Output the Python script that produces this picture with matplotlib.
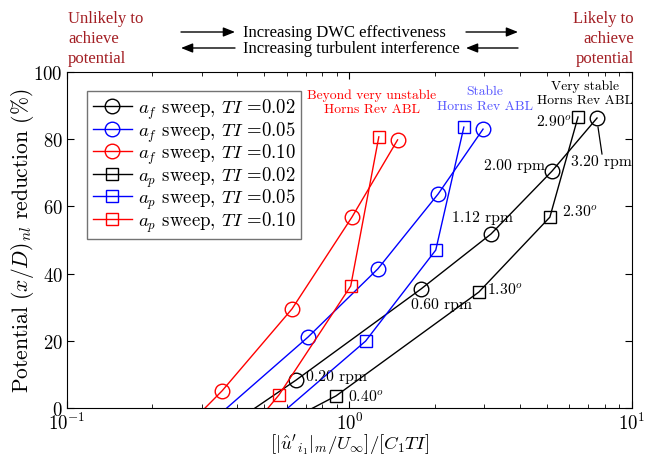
import numpy as np
import matplotlib
matplotlib.use("Agg")
import matplotlib.pyplot as plt

plt.rcParams["font.family"] = "serif"
plt.rcParams["font.serif"] = ["cmr10", "DejaVu Serif"]
plt.rcParams["mathtext.fontset"] = "cm"
plt.rcParams["axes.formatter.use_mathtext"] = True
plt.rcParams["axes.unicode_minus"] = False

# a_f sweeps (circles): normalised amplitude vs. potential reduction (%)
af_x_002 = [0.31, 0.647, 1.79, 3.17, 5.21, 7.52]
af_y_002 = [-10, 8.3, 35.4, 51.8, 70.5, 86.3]
af_x_005 = [0.269, 0.713, 1.26, 2.06, 2.97]
af_y_005 = [-10, 21.1, 41.4, 63.7, 83.0]
af_x_010 = [0.235, 0.354, 0.626, 1.02, 1.48]
af_y_010 = [-10, 5.1, 29.5, 56.8, 79.8]

# a_p sweeps (squares)
ap_x_002 = [0.44, 0.896, 2.87, 5.12, 6.44]
ap_y_002 = [-10, 3.6, 34.5, 56.8, 86.6]
ap_x_005 = [0.44, 1.14, 2.02, 2.54]
ap_y_005 = [-10, 19.9, 47.0, 83.6]
ap_x_010 = [0.41, 0.563, 1.01, 1.27]
ap_y_010 = [-10, 3.9, 36.3, 80.7]

series = [
    (af_x_002, af_y_002, "o", "black", r"$a_f$ sweep, $TI$ =0.02"),
    (af_x_005, af_y_005, "o", "blue", r"$a_f$ sweep, $TI$ =0.05"),
    (af_x_010, af_y_010, "o", "red", r"$a_f$ sweep, $TI$ =0.10"),
    (ap_x_002, ap_y_002, "s", "black", r"$a_p$ sweep, $TI$ =0.02"),
    (ap_x_005, ap_y_005, "s", "blue", r"$a_p$ sweep, $TI$ =0.05"),
    (ap_x_010, ap_y_010, "s", "red", r"$a_p$ sweep, $TI$ =0.10"),
]

fig = plt.figure(figsize=(6.49, 4.56), dpi=100)
ax = fig.add_axes([0.1032, 0.1031, 0.8706, 0.7368])

for x, y, m, c, lab in series:
    ms = 10.5 if m == "o" else 8
    ax.plot(x, y, marker=m, color=c, mfc="none", mec=c, ms=ms, mew=1.0,
            lw=1.0, label=lab)

ax.set_xscale("log")
ax.set_xlim(0.1, 10)
ax.set_ylim(0, 100)
ax.set_yticks([0, 20, 40, 60, 80, 100])
ax.tick_params(which="both", direction="in", top=True, right=True,
               labelsize=13.5, pad=3)
ax.tick_params(which="major", length=5)
ax.tick_params(which="minor", length=3)
ax.set_xlabel(r"$[|\hat{u}'_{i_1}|_m/U_\infty]/[C_1TI]$", fontsize=13.5,
              labelpad=-1.5)
ax.set_ylabel(r"Potential $(x/D)_{nl}$ reduction (%)", fontsize=15.5,
              labelpad=-2)

leg = ax.legend(loc="upper left", bbox_to_anchor=(0.0354, 0.943),
                borderaxespad=0, fontsize=13.5, fancybox=False,
                edgecolor="0.45", framealpha=1, handlelength=2.1,
                handletextpad=0.3, labelspacing=-0.1, borderpad=0.3)
leg.get_frame().set_linewidth(1.0)

# Stability regime labels
reg = dict(ha="center", va="center", fontsize=9.8, linespacing=1.25)
ax.text(1.20, 91.1, "Beyond very unstable\nHorns Rev ABL", color="red", **reg)
ax.text(3.02, 92.1, "Stable\nHorns Rev ABL", color="#5555ff", **reg)
ax.text(6.82, 93.9, "Very stable\nHorns Rev ABL", color="black", **reg)

# Point annotations
ann = dict(fontsize=11.3, va="center")
ax.text(0.702, 9.5, "0.20 rpm", ha="left", **ann)
ax.text(1.65, 31.0, "0.60 rpm", ha="left", **ann)
ax.text(2.31, 56.8, "1.12 rpm", ha="left", **ann)
ax.text(4.92, 72.3, "2.00 rpm", ha="right", **ann)
ax.text(6.08, 73.5, "3.20 rpm", ha="left", **ann)
ax.plot([7.58, 7.83], [83.6, 75.6], color="black", lw=0.9)
ax.text(0.988, 3.3, r"0.40$^o$", ha="left", **ann)
ax.text(3.07, 35.4, r"1.30$^o$", ha="left", **ann)
ax.text(5.65, 58.6, r"2.30$^o$", ha="left", **ann)
ax.text(6.13, 85.4, r"2.90$^o$", ha="right", **ann)

# Header: interpretation arrows and labels
W, H = 649.0, 456.0
def fx(px):
    return px / W
def fy(py):
    return 1 - py / H

dark_red = "#a31f24"
top = dict(family=["Liberation Serif", "DejaVu Serif"], fontsize=12)
fig.text(fx(68), fy(39), "Unlikely to\nachieve\npotential", color=dark_red,
         ha="left", va="center", linespacing=1.3, **top)
fig.text(fx(634), fy(39), "Likely to\nachieve\npotential", color=dark_red,
         ha="right", va="center", linespacing=1.3, **top)
fig.text(fx(243), fy(33), "Increasing DWC effectiveness", color="black",
         ha="left", va="center", **top)
fig.text(fx(243), fy(49), "Increasing turbulent interference", color="black",
         ha="left", va="center", **top)

arrow = dict(arrowstyle="-|>,head_length=0.7,head_width=0.28", color="black",
             lw=1.0, shrinkA=0, shrinkB=0)
for (x0, x1, y) in [(181, 235, 33), (235, 181, 49), (466, 518, 33),
                    (518, 466, 49)]:
    fig.add_artist(matplotlib.patches.FancyArrowPatch(
        (fx(x0), fy(y)), (fx(x1), fy(y)), transform=fig.transFigure,
        mutation_scale=10, **arrow))

fig.savefig("out.png", dpi=100)
